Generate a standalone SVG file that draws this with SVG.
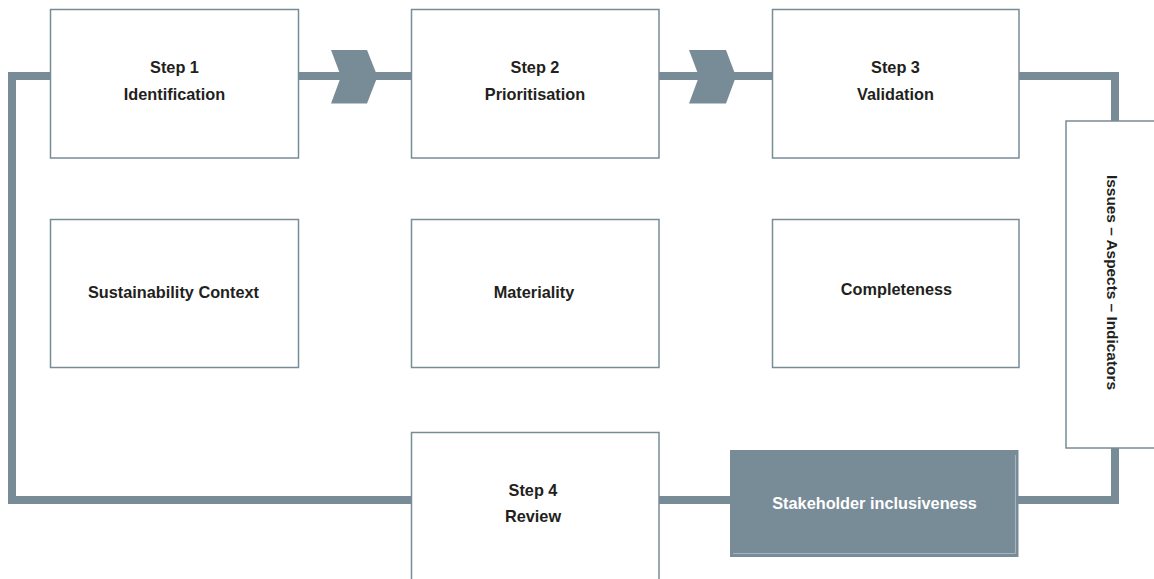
<svg xmlns="http://www.w3.org/2000/svg" width="1154" height="579" viewBox="0 0 1154 579">
  <style>
    .box { fill: #ffffff; stroke: #788c97; stroke-width: 1.5; }
    .dark { fill: #788c97; }
    .conn { fill: none; stroke: #788c97; stroke-width: 8; stroke-linejoin: miter; }
    .lbl { font-family: "Liberation Sans", Arial, sans-serif; font-weight: bold; font-size: 16.3px; fill: #231f20; text-anchor: middle; }
    .lblw { fill: #ffffff; }
  </style>
  <rect width="1154" height="579" fill="#ffffff"/>

  <g id="connectors">
    <path class="conn" d="M12,76 H1115 V500 H12 Z"/>
    <path class="dark" d="M331,50 H367 L377.5,76.5 L367,103.5 H331 L341,76.5 Z"/>
    <path class="dark" d="M689,50 H726 L736,76.5 L726,103.5 H689 L699,76.5 Z"/>
  </g>

  <g id="step1">
    <rect class="box" x="50.5" y="9.5" width="248" height="148.5"/>
    <text class="lbl" x="174.5" y="73">Step 1</text>
    <text class="lbl" x="174.5" y="99.5">Identification</text>
  </g>
  <g id="step2">
    <rect class="box" x="411.5" y="9.5" width="247.5" height="148.5"/>
    <text class="lbl" x="535" y="73">Step 2</text>
    <text class="lbl" x="535" y="99.5">Prioritisation</text>
  </g>
  <g id="step3">
    <rect class="box" x="772.5" y="9.5" width="246.5" height="148.5"/>
    <text class="lbl" x="895.5" y="73">Step 3</text>
    <text class="lbl" x="895.5" y="99.5">Validation</text>
  </g>

  <g id="sustainability-context">
    <rect class="box" x="50.5" y="219.5" width="248" height="148"/>
    <text class="lbl" x="173.5" y="298">Sustainability Context</text>
  </g>
  <g id="materiality">
    <rect class="box" x="411.5" y="219.5" width="247.5" height="148"/>
    <text class="lbl" x="534" y="297.5">Materiality</text>
  </g>
  <g id="completeness">
    <rect class="box" x="772.5" y="219.5" width="246.5" height="148"/>
    <text class="lbl" x="896.5" y="294.5">Completeness</text>
  </g>

  <g id="issues-aspects-indicators">
    <rect class="box" x="1066" y="121" width="100" height="327"/>
    <text class="lbl" style="font-size:15.4px" transform="translate(1106.5,282.5) rotate(90)">Issues – Aspects – Indicators</text>
  </g>

  <g id="step4">
    <rect class="box" x="411.5" y="432.5" width="247.5" height="170"/>
    <text class="lbl" x="533" y="496">Step 4</text>
    <text class="lbl" x="533" y="522">Review</text>
  </g>

  <g id="stakeholder-inclusiveness">
    <rect class="dark" x="730" y="450" width="288.5" height="107"/>
    <path d="M733,553.5 H1015.5 V455" fill="none" stroke="#a7b4bb" stroke-width="1"/>
    <text class="lbl lblw" x="874.5" y="509">Stakeholder inclusiveness</text>
  </g>
</svg>
